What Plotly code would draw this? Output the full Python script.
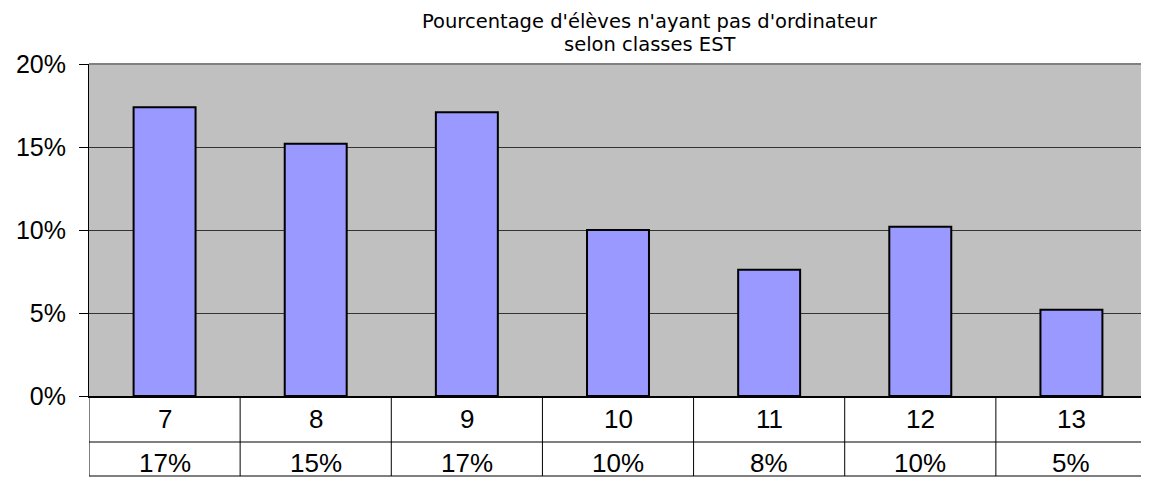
import plotly.graph_objects as go

# data
classes = ["7", "8", "9", "10", "11", "12", "13"]
pct_sans_ordi = [17.4, 15.2, 17.1, 10.0, 7.6, 10.2, 5.2]
y_ticks = [0, 5, 10, 15, 20]
y_tick_labels = ["0%", "5%", "10%", "15%", "20%"]

title_lines = ["Pourcentage d'élèves n'ayant pas d'ordinateur", "selon classes EST"]

# page body has an 8px margin, so the figure is sized/placed to compensate
W, H = 1141, 472
m_l, m_r, m_t, m_b = 81, 2, 56, 84
plot_h = H - m_t - m_b
plot_w = W - m_l - m_r

def py(px_below):
    # pixels below the plot bottom -> paper coordinate
    return -px_below / plot_h

fig = go.Figure()

fig.add_trace(go.Bar(
    x=classes,
    y=pct_sans_ordi,
    marker=dict(color="#9999FF", line=dict(color="black", width=2)),
    width=0.41,
    showlegend=False,
    hoverinfo="x+y",
))

# data table under the plot
row_sep = py(46)
row_bot = py(80)
n = len(classes)
for i in range(n + 1):
    fig.add_shape(type="line", xref="x", yref="paper",
                  x0=i - 0.5, x1=i - 0.5, y0=0, y1=row_bot,
                  line=dict(color="black", width=1))
for yy in (row_sep, row_bot):
    fig.add_shape(type="line", xref="x", yref="paper",
                  x0=-0.5, x1=n - 0.5, y0=yy, y1=yy,
                  line=dict(color="black", width=1))

for i, (c, v) in enumerate(zip(classes, pct_sans_ordi)):
    fig.add_annotation(x=i, xref="x", yref="paper", y=py(23), text=c,
                       showarrow=False, yanchor="middle",
                       font=dict(family="Liberation Sans, Arial", size=26, color="black"))
    fig.add_annotation(x=i, xref="x", yref="paper", y=py(67), text=f"{v:.0f}%",
                       showarrow=False, yanchor="middle",
                       font=dict(family="Liberation Sans, Arial", size=26, color="black"))

# grey top and right border of the plot area
fig.add_shape(type="line", xref="paper", yref="paper", x0=0, x1=1, y0=1, y1=1,
              line=dict(color="#808080", width=2))
fig.add_shape(type="line", xref="paper", yref="paper", x0=1, x1=1, y0=0, y1=1,
              line=dict(color="#808080", width=2))

# two-line title
title_x = (642 - m_l) / plot_w
for line, shift in zip(title_lines, (43, 20)):
    fig.add_annotation(x=title_x, y=1, xref="paper", yref="paper",
                       yanchor="middle", yshift=shift, borderpad=0,
                       text=line, showarrow=False,
                       font=dict(family="DejaVu Sans, Verdana", size=19.5, color="black"))

fig.update_layout(
    width=W, height=H,
    margin=dict(l=m_l, r=m_r, t=m_t, b=m_b),
    paper_bgcolor="white",
    plot_bgcolor="#C0C0C0",
    font=dict(family="Liberation Sans, Arial", color="black"),
    xaxis=dict(type="category", range=[-0.5, n - 0.5], showticklabels=False, ticks="",
               showgrid=False, zeroline=False,
               showline=True, linecolor="black", linewidth=2),
    yaxis=dict(range=[0, 20], tickvals=y_ticks, ticktext=y_tick_labels,
               ticks="outside", ticklen=9, tickcolor="black", tickwidth=1,
               ticklabelstandoff=8, automargin=False,
               tickfont=dict(size=25, family="Liberation Sans, Arial"),
               showgrid=True, gridcolor="#333333", gridwidth=1,
               zeroline=False, showline=True, linecolor="black", linewidth=1),
    bargap=0.59,
)

fig.write_html("out.html")
